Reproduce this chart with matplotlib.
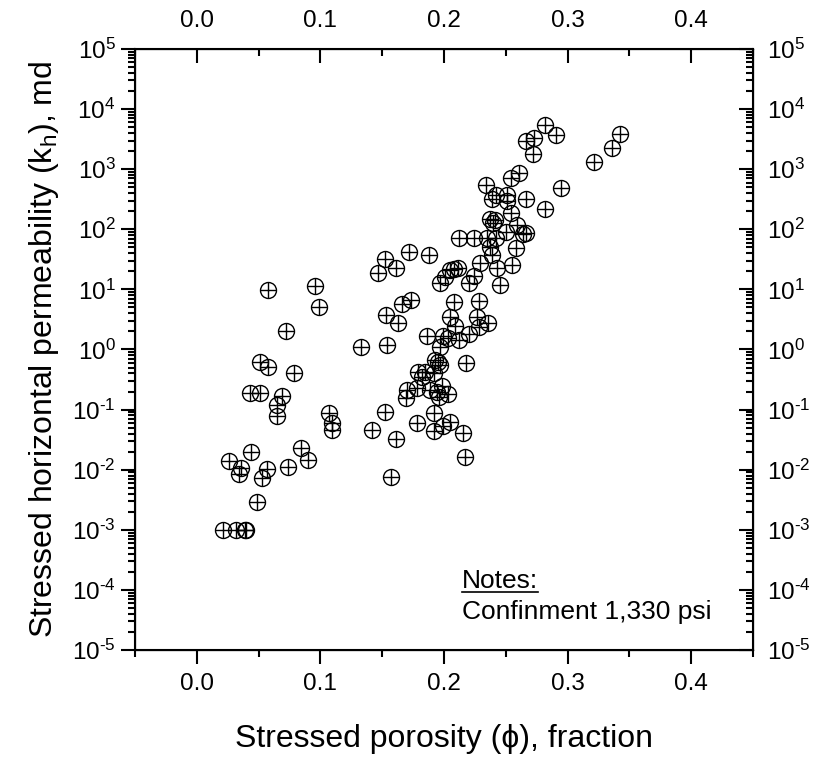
import matplotlib
matplotlib.use("Agg")
import matplotlib.pyplot as plt
from matplotlib.lines import Line2D
from matplotlib.ticker import MultipleLocator, LogLocator, FuncFormatter, FormatStrFormatter
import numpy as np

plt.rcParams['font.family'] = ['Liberation Sans', 'DejaVu Sans']
plt.rcParams['mathtext.fontset'] = 'custom'
plt.rcParams['mathtext.rm'] = 'Liberation Sans'
plt.rcParams['mathtext.it'] = 'Liberation Sans:italic'
plt.rcParams['mathtext.bf'] = 'Liberation Sans:bold'

# stressed porosity (fraction) and stressed horizontal permeability (md)
porosity = [
    0.282, 0.291, 0.266, 0.273, 0.272, 0.342, 0.336, 0.321, 0.295, 0.282,
    0.261, 0.254, 0.234, 0.242, 0.251, 0.251, 0.266, 0.239, 0.254, 0.237,
    0.241, 0.240, 0.259, 0.250, 0.264, 0.266, 0.212, 0.224, 0.235, 0.242,
    0.258, 0.237, 0.239, 0.172, 0.188, 0.152, 0.161, 0.147, 0.229, 0.208,
    0.211, 0.205, 0.201, 0.197, 0.243, 0.255, 0.224, 0.220, 0.245, 0.173,
    0.166, 0.208, 0.228, 0.153, 0.163, 0.205, 0.227, 0.209, 0.236, 0.228,
    0.186, 0.199, 0.203, 0.212, 0.220, 0.154, 0.133, 0.197, 0.218, 0.193,
    0.197, 0.195, 0.179, 0.185, 0.192, 0.182, 0.170, 0.178, 0.169, 0.189,
    0.194, 0.198, 0.203, 0.196, 0.192, 0.178, 0.199, 0.205, 0.192, 0.215,
    0.217, 0.157, 0.152, 0.142, 0.161,
    0.058, 0.096, 0.099, 0.072, 0.051, 0.058, 0.079, 0.043, 0.051, 0.069,
    0.065, 0.065, 0.107, 0.109, 0.109, 0.044, 0.084, 0.090, 0.026, 0.036,
    0.034, 0.057, 0.053, 0.074, 0.049, 0.021, 0.032, 0.039, 0.040,
]
perm_kh = [
    5500, 3700, 3000, 3250, 1800, 3900, 2250, 1300, 490, 214,
    880, 700, 540, 370, 370, 300, 316, 324, 186, 148,
    141, 126, 117, 89, 85, 88, 71, 72, 71, 71,
    48, 50, 37, 42, 38, 32, 23, 19, 27, 22,
    23, 21, 16, 12.6, 23, 25, 17, 12.6, 11.7, 6.6,
    5.8, 6.2, 6.5, 3.7, 2.75, 3.5, 3.5, 2.5, 2.75, 2.35,
    1.66, 1.66, 1.58, 1.45, 1.78, 1.2, 1.1, 1.12, 0.59, 0.66,
    0.56, 0.62, 0.42, 0.42, 0.40, 0.35, 0.21, 0.23, 0.155, 0.21,
    0.195, 0.25, 0.18, 0.16, 0.089, 0.060, 0.054, 0.062, 0.044, 0.041,
    0.016, 0.0076, 0.091, 0.045, 0.033,
    9.8, 11.3, 5.1, 2.06, 0.63, 0.52, 0.41, 0.19, 0.19, 0.17,
    0.12, 0.079, 0.087, 0.059, 0.046, 0.020, 0.023, 0.0145, 0.0138, 0.0107,
    0.0085, 0.0102, 0.0072, 0.011, 0.0029, 0.001, 0.001, 0.001, 0.001,
]

XLIM = (-0.05, 0.45)
YLIM = (1e-5, 1e5)


def pow10(v, pos):
    e = int(round(np.log10(v)))
    return r'$10^{\text{%d}}$' % e


def style_x(a):
    a.set_xlim(*XLIM)
    a.xaxis.set_major_locator(MultipleLocator(0.1))
    a.xaxis.set_minor_locator(MultipleLocator(0.05))
    a.xaxis.set_major_formatter(FormatStrFormatter('%.1f'))


def style_y(a):
    a.set_yscale('log')
    a.set_ylim(*YLIM)
    a.yaxis.set_major_locator(LogLocator(base=10, numticks=20))
    a.yaxis.set_minor_locator(LogLocator(base=10, subs=range(2, 10), numticks=20))
    a.yaxis.set_major_formatter(FuncFormatter(pow10))


fig = plt.figure(figsize=(8.14, 7.63), dpi=100)
ax = fig.add_axes([0.1658, 0.1481, 0.7593, 0.7877])

ax.plot(porosity, perm_kh, linestyle='none', marker='o', markersize=11.5,
        markerfacecolor='none', markeredgecolor='black', markeredgewidth=1.0)
ax.plot(porosity, perm_kh, linestyle='none', marker='+', markersize=11.5,
        markeredgecolor='black', markeredgewidth=1.0)
style_x(ax)
style_y(ax)

# bottom / left: ticks outward
ax.tick_params(which='both', direction='out', top=False, right=False,
               width=1.5, labelsize=17.5)
ax.tick_params(axis='x', which='major', length=10, pad=6.5)
ax.tick_params(axis='y', which='major', length=10, pad=4)
ax.tick_params(which='minor', length=5)
for sp in ax.spines.values():
    sp.set_linewidth(1.5)

# top axis: ticks inward
ax_top = ax.twiny()
style_x(ax_top)
ax_top.tick_params(which='both', direction='in', width=1.5, labelsize=17.5,
                   top=True, bottom=False, labeltop=True, labelbottom=False)
ax_top.tick_params(which='major', length=10, pad=12)
ax_top.tick_params(which='minor', length=5)

# right axis: ticks inward
ax_right = ax.twinx()
style_y(ax_right)
ax_right.tick_params(which='both', direction='in', width=1.5, labelsize=17.5,
                     right=True, left=False, labelright=True, labelleft=False)
ax_right.tick_params(which='major', length=10, pad=10)
ax_right.tick_params(which='minor', length=5)

ax.set_xlabel('Stressed porosity (\u03d5), fraction', fontsize=23, labelpad=21)
ax.set_ylabel('Stressed horizontal permeability (k$_\\mathrm{h}$), md', fontsize=23, labelpad=8)

notes = ax.text(0.529, 0.103, 'Notes:', transform=ax.transAxes,
                fontsize=19, va='baseline', ha='left')
ax.text(0.529, 0.052, 'Confinment 1,330 psi', transform=ax.transAxes,
        fontsize=19, va='baseline', ha='left')

# underline for "Notes:"
fig.canvas.draw()
bb = notes.get_window_extent().transformed(fig.transFigure.inverted())
uy = bb.y0 + 0.001
fig.add_artist(Line2D([bb.x0, bb.x1], [uy, uy], color='black', linewidth=1.2,
                      transform=fig.transFigure))

fig.savefig('out.png', dpi=100)
